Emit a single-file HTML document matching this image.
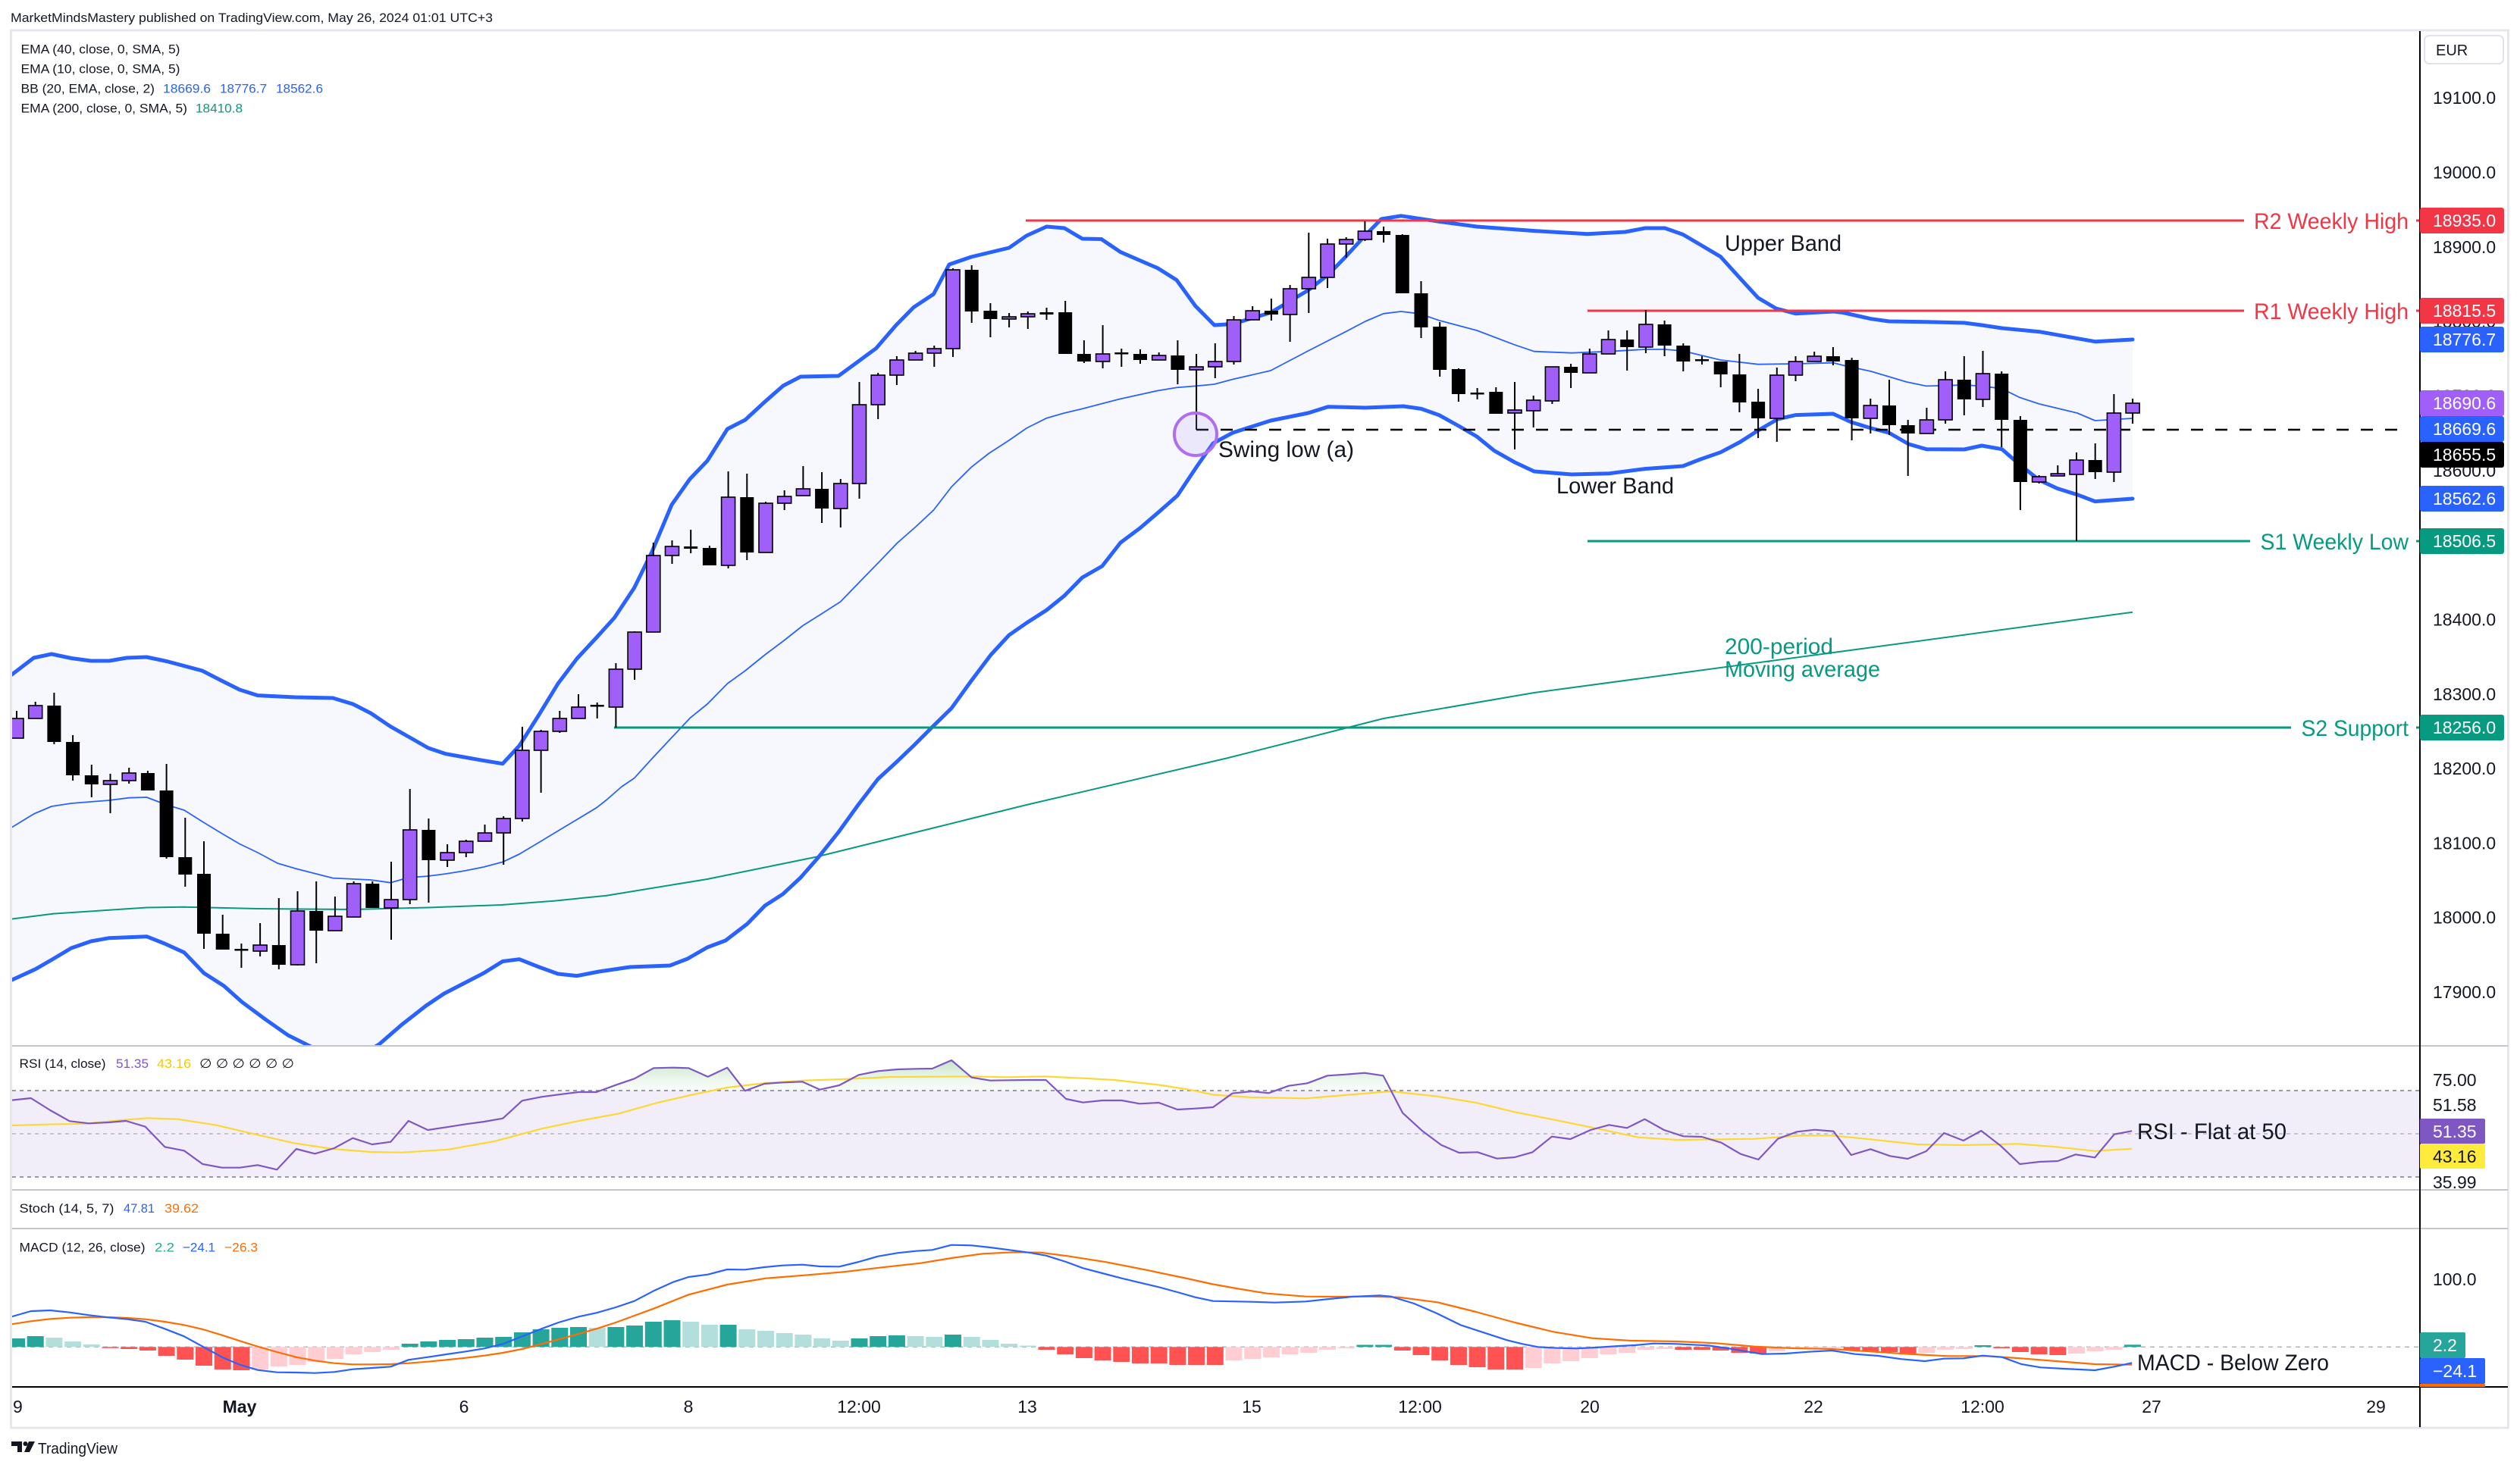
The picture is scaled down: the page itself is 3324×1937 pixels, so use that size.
<!DOCTYPE html>
<html><head><meta charset="utf-8"><style>
html,body{margin:0;padding:0;background:#fff;}
svg{display:block;font-family:"Liberation Sans","DejaVu Sans",sans-serif;}
</style></head><body>
<svg width="3324" height="1937" viewBox="0 0 3324 1937">
<defs>
<clipPath id="cm"><rect x="16" y="41" width="3175" height="1338"/></clipPath>
<clipPath id="cr"><rect x="16" y="1381" width="3175" height="188"/></clipPath>
<clipPath id="cg"><rect x="16" y="1381" width="3175" height="58"/></clipPath>
<clipPath id="cd"><rect x="16" y="1622" width="3175" height="207"/></clipPath>
<clipPath id="ct"><rect x="16" y="1831" width="3175" height="52"/></clipPath>
<linearGradient id="gg" gradientUnits="userSpaceOnUse" x1="0" y1="1396" x2="0" y2="1439"><stop offset="0" stop-color="#a5d6a7" stop-opacity="0.75"/><stop offset="1" stop-color="#e8f5e9" stop-opacity="0.25"/></linearGradient>
</defs>
<rect x="0" y="0" width="3324" height="1937" fill="#fff"/>
<text x="14" y="29" font-size="17" fill="#131722" textLength="636" lengthAdjust="spacingAndGlyphs">MarketMindsMastery published on TradingView.com, May 26, 2024 01:01 UTC+3</text>
<rect x="14.5" y="40" width="3294" height="1844" fill="#fff" stroke="#e6e7ec" stroke-width="3"/>

<g clip-path="url(#cm)">
<polygon fill="#f6f8fe" points="15.7,890 44.5,868 68,863 94,868.5 120,872 144,872 167,868 193.5,867 219.7,872.5 266.7,885 293,898.5 316,910 340,917.6 389.6,920 439,921 465.5,929 489,941 515,958.6 538.7,972 565,987 588,994.7 612,999 638,1003.6 663,1007.7 685,984 711,943 736,902 761,869 787,841 810.5,815 836.6,775.6 860,728 886,666 910,632 933,608 959.5,566 983,554 1009,530 1033,509 1056,497 1106,496 1132,477 1155.6,459.6 1182,429 1205,405.6 1231.5,388 1252,349 1281,339 1331,327 1354,311 1380.5,299 1404,301 1427.6,315 1452.7,315.5 1478,332.6 1527,353.8 1552,369.5 1576.7,403.6 1601.8,429 1626,427.5 1676,412.5 1725.5,383 1751.7,362.6 1775,338.7 1798.7,312.8 1822,289 1848,284.8 1898,292.3 1948,299 2023.6,304.6 2094,308.7 2144,306 2170,301 2196,301 2219.8,309.4 2243,323 2269.5,338.7 2293,364.7 2319,393 2342.7,407 2368.8,413.8 2418.5,411 2431,412.5 2468,420.7 2491.5,424 2541,424.7 2591,426 2614,429 2640.6,433 2690,437.7 2740,446.6 2763.5,450.7 2813,448 2813,658 2763.5,661.6 2740,652.7 2714,644.6 2690,633.6 2664,613 2640.6,592.7 2614,588 2591,593 2541,592.7 2517.7,586 2491.5,571 2468,565 2441.8,557 2418,546 2368.8,547.6 2345,553 2319,568 2295.6,583 2269.5,596.8 2243,606 2219.8,615 2170,618.6 2123,624.7 2073,626 2023.6,622 1997.5,609.7 1971,594.7 1948,576 1924,562 1898,547.6 1874.6,539.4 1851,536 1801,538 1751.7,536.7 1725.5,545 1676,555 1626,571 1600,585 1579,615 1553,654 1529.6,674.6 1503.5,697 1478,716 1453.8,747 1427.6,762 1404,786 1380.5,805 1354,822 1331,838 1307,864 1281,898.5 1255,934.6 1229,960 1205,984 1182,1006 1158,1028 1132,1062 1106,1098 1080,1130.6 1056,1158 1032.7,1179.7 1009,1195 985.7,1219 957,1241 933,1250 907,1265 883.7,1274 831,1276 790,1282 761,1287.6 736,1285 711,1276 685,1265.7 663,1268.5 638,1284 609,1299 585.8,1311 562,1327 530,1352 500,1378 480,1390 430,1390 410,1381 380,1366 350,1345 319,1322 295.5,1301 269,1284 243,1256.8 217,1245 193.5,1235.7 144,1237.7 120,1242 94,1251 70.6,1265 47,1278.7 15.7,1293"/>
<polyline fill="none" stroke="#089981" stroke-width="2" points="15.7,1212.5 70.6,1205.6 193.5,1197.5 243,1196.8 340,1199 465.5,1200 565,1197.5 661.6,1194 732,1188.6 800,1181.7 933,1160 1077,1130.6 1221,1095 1354,1062 1620,1000 1825,948 2023.6,914 2418.5,861 2813,807.7"/>
<polyline fill="none" stroke="#2962ff" stroke-width="1.8" stroke-linejoin="round" points="15.7,1091.6 44.5,1074 68,1064 94,1060 144,1056 170,1052.7 193.5,1052 219.7,1062 243,1069 266.7,1084 293,1100 316,1113.5 340,1125 366,1139 389.6,1146 439,1158.6 489,1161 515,1164.7 538.7,1158 565,1156 588,1153 613,1149 638,1144 663,1137.4 685,1127 711,1111.5 736,1096.4 761,1081.4 787,1065.7 800,1055.5 820,1038 836.6,1026.8 860,1001 910,947.6 933,929 959.5,902 983,885 1009,864 1033,846 1059,825.5 1082,811 1108.6,794 1134.7,767 1161,740 1184,716 1208,695 1231.5,673 1255,642.5 1281,616.6 1304.7,598 1331,581 1354,565 1380.5,551.7 1404,545 1427.6,539.4 1477,526.5 1527,515.5 1552,511.4 1576.7,509.4 1601.8,507 1626,500.5 1676,489 1725.5,463 1775,437.7 1801,424 1825,413.8 1848,411 1872,413.8 1898,422.7 1948,436 1997.5,454.8 2023.6,463.7 2073,465.7 2123,463.7 2170,461 2196,461 2219.8,463 2269.5,475 2319,480.7 2368.8,480 2418.5,478.7 2431,482 2468,490 2515,504 2541,509.4 2591,508 2614,509.4 2640.6,512.8 2664,524.4 2690,533 2740,545 2763.5,555 2813,552"/>
<polyline fill="none" stroke="#2962ff" stroke-width="5" stroke-linejoin="round" stroke-linecap="round" points="15.7,890 44.5,868 68,863 94,868.5 120,872 144,872 167,868 193.5,867 219.7,872.5 266.7,885 293,898.5 316,910 340,917.6 389.6,920 439,921 465.5,929 489,941 515,958.6 538.7,972 565,987 588,994.7 612,999 638,1003.6 663,1007.7 685,984 711,943 736,902 761,869 787,841 810.5,815 836.6,775.6 860,728 886,666 910,632 933,608 959.5,566 983,554 1009,530 1033,509 1056,497 1106,496 1132,477 1155.6,459.6 1182,429 1205,405.6 1231.5,388 1252,349 1281,339 1331,327 1354,311 1380.5,299 1404,301 1427.6,315 1452.7,315.5 1478,332.6 1527,353.8 1552,369.5 1576.7,403.6 1601.8,429 1626,427.5 1676,412.5 1725.5,383 1751.7,362.6 1775,338.7 1798.7,312.8 1822,289 1848,284.8 1898,292.3 1948,299 2023.6,304.6 2094,308.7 2144,306 2170,301 2196,301 2219.8,309.4 2243,323 2269.5,338.7 2293,364.7 2319,393 2342.7,407 2368.8,413.8 2418.5,411 2431,412.5 2468,420.7 2491.5,424 2541,424.7 2591,426 2614,429 2640.6,433 2690,437.7 2740,446.6 2763.5,450.7 2813,448"/>
<polyline fill="none" stroke="#2962ff" stroke-width="5" stroke-linejoin="round" stroke-linecap="round" points="15.7,1293 47,1278.7 70.6,1265 94,1251 120,1242 144,1237.7 193.5,1235.7 217,1245 243,1256.8 269,1284 295.5,1301 319,1322 350,1345 380,1366 410,1381 430,1390 480,1390 500,1378 530,1352 562,1327 585.8,1311 609,1299 638,1284 663,1268.5 685,1265.7 711,1276 736,1285 761,1287.6 790,1282 831,1276 883.7,1274 907,1265 933,1250 957,1241 985.7,1219 1009,1195 1032.7,1179.7 1056,1158 1080,1130.6 1106,1098 1132,1062 1158,1028 1182,1006 1205,984 1229,960 1255,934.6 1281,898.5 1307,864 1331,838 1354,822 1380.5,805 1404,786 1427.6,762 1453.8,747 1478,716 1503.5,697 1529.6,674.6 1553,654 1579,615 1600,585 1626,571 1676,555 1725.5,545 1751.7,536.7 1801,538 1851,536 1874.6,539.4 1898,547.6 1924,562 1948,576 1971,594.7 1997.5,609.7 2023.6,622 2073,626 2123,624.7 2170,618.6 2219.8,615 2243,606 2269.5,596.8 2295.6,583 2319,568 2345,553 2368.8,547.6 2418,546 2441.8,557 2468,565 2491.5,571 2517.7,586 2541,592.7 2591,593 2614,588 2640.6,592.7 2664,613 2690,633.6 2714,644.6 2740,652.7 2763.5,661.6 2813,658"/>

<g stroke-width="3" fill="none">
<line x1="1353" y1="291" x2="2960" y2="291" stroke="#f23645"/>
<line x1="3187" y1="291" x2="3192" y2="291" stroke="#f23645"/>
<line x1="2094" y1="410" x2="2960" y2="410" stroke="#f23645"/>
<line x1="3187" y1="410" x2="3192" y2="410" stroke="#f23645"/>
<line x1="2094" y1="714" x2="2968" y2="714" stroke="#089981"/>
<line x1="3187" y1="714" x2="3192" y2="714" stroke="#089981"/>
<line x1="810" y1="960" x2="3022" y2="960" stroke="#089981"/>
<line x1="3187" y1="960" x2="3192" y2="960" stroke="#089981"/>
</g>
<line x1="1578" y1="567" x2="3177" y2="567" stroke="#000" stroke-width="2.6" stroke-dasharray="16 16"/>

<path fill="none" stroke="#000" stroke-width="2" d="M22 938V974M46.7 926V948M71.4 914V982M96.1 970V1030M120.8 1009V1052M145.5 1021V1073M170.2 1013V1034M194.9 1017V1043M219.6 1008V1133M244.3 1079V1170M269 1110V1252M293.7 1207V1253M318.4 1245V1277M343.1 1218V1262M367.8 1185V1279M392.5 1176V1274M417.2 1163V1271M441.9 1183V1228M466.6 1163V1210M491.3 1163V1198M516 1137V1240M540.7 1041V1193M565.4 1080V1191M590.1 1114V1144M614.8 1108V1131M639.5 1088V1110M664.2 1077V1141M688.9 959V1084M713.6 963V1046M738.3 938V967M763 916V948M787.7 927V948M812.4 875V960M837.1 833V897M861.8 716V834M886.5 713V744M911.2 699V730M935.9 720V746M960.6 622V750M985.3 625V739M1010 662V729M1034.7 647V673M1059.4 615V654M1084.1 623V690M1108.8 632V696M1133.5 504V658M1158.2 492V553M1182.9 470V508M1207.6 463V475M1232.3 456V484M1257 354V471M1281.7 350V426M1306.4 400V445M1331.1 413V432M1355.8 411V434M1380.5 406V422M1405.2 397V467M1429.9 449V479M1454.6 429V486M1479.3 460V484M1504 461V480M1528.7 465V475M1553.4 449V507M1578.1 467V567M1602.8 453V499M1627.5 417V481M1652.2 404V422M1676.9 394V423M1701.6 376V451M1726.3 307V413M1751 315V380M1775.7 313V340M1800.4 292V318M1825.1 299V320M1849.8 309V387M1874.5 371V446M1899.2 425V497M1923.9 486V530M1948.6 512V527M1973.3 511V546M1998 504V593M2022.7 522V564M2047.4 484V533M2072.1 480V512M2096.8 460V492M2121.5 436V467M2146.2 436V489M2170.9 409V466M2195.6 423V470M2220.3 453V490M2245 470V481M2269.7 477V511M2294.4 467V544M2319.1 513V578M2343.8 485V583M2368.5 470V503M2393.2 464V477M2417.9 458V482M2442.6 472V581M2467.3 526V572M2492 501V574M2516.7 554V628M2541.4 538V572M2566.1 490V559M2590.8 470V548M2615.5 463V537M2640.2 490V590M2664.9 549V673M2689.6 627V638M2714.3 614V628M2739 597V714M2763.7 585V632M2788.4 520V636M2813.1 526V559"/>

<g fill="#000">
<rect x="62.4" y="931" width="18" height="48"/><rect x="87.1" y="979" width="18" height="44"/><rect x="111.8" y="1023" width="18" height="12"/><rect x="185.9" y="1020" width="18" height="23"/><rect x="210.6" y="1043" width="18" height="88"/><rect x="235.3" y="1131" width="18" height="23"/><rect x="260" y="1153" width="18" height="79"/><rect x="284.7" y="1232" width="18" height="21"/><rect x="309.4" y="1252" width="18" height="2.5"/><rect x="358.8" y="1247" width="18" height="26"/><rect x="408.2" y="1202" width="18" height="26"/><rect x="482.3" y="1166" width="18" height="32"/><rect x="556.4" y="1095" width="18" height="40"/><rect x="778.7" y="930" width="18" height="2.5"/><rect x="902.2" y="721" width="18" height="3"/><rect x="926.9" y="723" width="18" height="23"/><rect x="976.3" y="656" width="18" height="73"/><rect x="1075.1" y="645" width="18" height="26"/><rect x="1272.7" y="356" width="18" height="55"/><rect x="1297.4" y="410" width="18" height="11"/><rect x="1371.5" y="412" width="18" height="3"/><rect x="1396.2" y="412" width="18" height="55"/><rect x="1420.9" y="467" width="18" height="10"/><rect x="1470.3" y="465" width="18" height="2.5"/><rect x="1495" y="467" width="18" height="8"/><rect x="1544.4" y="469" width="18" height="19"/><rect x="1667.9" y="410" width="18" height="5"/><rect x="1816.1" y="305" width="18" height="5"/><rect x="1840.8" y="310" width="18" height="77"/><rect x="1865.5" y="387" width="18" height="45"/><rect x="1890.2" y="431" width="18" height="57"/><rect x="1914.9" y="487" width="18" height="33"/><rect x="1939.6" y="518" width="18" height="2.5"/><rect x="1964.3" y="517" width="18" height="29"/><rect x="2063.1" y="484" width="18" height="8"/><rect x="2137.2" y="448" width="18" height="10"/><rect x="2186.6" y="428" width="18" height="28"/><rect x="2211.3" y="456" width="18" height="21"/><rect x="2236" y="474" width="18" height="2.5"/><rect x="2260.7" y="477" width="18" height="17"/><rect x="2285.4" y="494" width="18" height="37"/><rect x="2310.1" y="530" width="18" height="22"/><rect x="2408.9" y="470" width="18" height="7"/><rect x="2433.6" y="475" width="18" height="77"/><rect x="2483" y="535" width="18" height="26"/><rect x="2507.7" y="561" width="18" height="11"/><rect x="2581.8" y="501" width="18" height="26"/><rect x="2631.2" y="493" width="18" height="61"/><rect x="2655.9" y="554" width="18" height="82"/><rect x="2754.7" y="607" width="18" height="16"/>
</g>
<g fill="#a15ffa" stroke="#000" stroke-width="1.6">
<rect x="13" y="948" width="18" height="26"/><rect x="37.7" y="931" width="18" height="17"/><rect x="136.5" y="1030" width="18" height="5"/><rect x="161.2" y="1020" width="18" height="10"/><rect x="334.1" y="1247" width="18" height="8"/><rect x="383.5" y="1202" width="18" height="71"/><rect x="432.9" y="1209" width="18" height="19"/><rect x="457.6" y="1166" width="18" height="44"/><rect x="507" y="1187" width="18" height="11"/><rect x="531.7" y="1095" width="18" height="92"/><rect x="581.1" y="1125" width="18" height="10"/><rect x="605.8" y="1110" width="18" height="15"/><rect x="630.5" y="1099" width="18" height="11"/><rect x="655.2" y="1080" width="18" height="19"/><rect x="679.9" y="990" width="18" height="90"/><rect x="704.6" y="965" width="18" height="25"/><rect x="729.3" y="948" width="18" height="17"/><rect x="754" y="933" width="18" height="15"/><rect x="803.4" y="883" width="18" height="50"/><rect x="828.1" y="834" width="18" height="49"/><rect x="852.8" y="733" width="18" height="101"/><rect x="877.5" y="721" width="18" height="12"/><rect x="951.6" y="656" width="18" height="90"/><rect x="1001" y="664" width="18" height="65"/><rect x="1025.7" y="655" width="18" height="9"/><rect x="1050.4" y="645" width="18" height="9"/><rect x="1099.8" y="638" width="18" height="33"/><rect x="1124.5" y="534" width="18" height="104"/><rect x="1149.2" y="495" width="18" height="39"/><rect x="1173.9" y="475" width="18" height="20"/><rect x="1198.6" y="466" width="18" height="9"/><rect x="1223.3" y="460" width="18" height="6"/><rect x="1248" y="356" width="18" height="104"/><rect x="1322.1" y="418" width="18" height="3"/><rect x="1346.8" y="414" width="18" height="4"/><rect x="1445.6" y="467" width="18" height="10"/><rect x="1519.7" y="469" width="18" height="6"/><rect x="1569.1" y="484" width="18" height="4"/><rect x="1593.8" y="477" width="18" height="7"/><rect x="1618.5" y="422" width="18" height="55"/><rect x="1643.2" y="410" width="18" height="12"/><rect x="1692.6" y="381" width="18" height="34"/><rect x="1717.3" y="366" width="18" height="15"/><rect x="1742" y="322" width="18" height="44"/><rect x="1766.7" y="316" width="18" height="6"/><rect x="1791.4" y="305" width="18" height="11"/><rect x="1989" y="541" width="18" height="4"/><rect x="2013.7" y="528" width="18" height="14"/><rect x="2038.4" y="484" width="18" height="45"/><rect x="2087.8" y="467" width="18" height="25"/><rect x="2112.5" y="448" width="18" height="19"/><rect x="2161.9" y="428" width="18" height="30"/><rect x="2334.8" y="495" width="18" height="57"/><rect x="2359.5" y="477" width="18" height="18"/><rect x="2384.2" y="470" width="18" height="7"/><rect x="2458.3" y="535" width="18" height="17"/><rect x="2532.4" y="554" width="18" height="18"/><rect x="2557.1" y="501" width="18" height="53"/><rect x="2606.5" y="493" width="18" height="34"/><rect x="2680.6" y="629" width="18" height="7"/><rect x="2705.3" y="625" width="18" height="3"/><rect x="2730" y="607" width="18" height="19"/><rect x="2779.4" y="545" width="18" height="78"/><rect x="2804.1" y="532" width="18" height="13"/>
</g>

<circle cx="1577" cy="573" r="28" fill="#b48cf0" fill-opacity="0.15" stroke="#b06df2" stroke-width="4"/>
<g font-size="30" fill="#131722">
<text x="1607" y="603" textLength="179" lengthAdjust="spacingAndGlyphs">Swing low (a)</text>
<text x="2275" y="331" textLength="154" lengthAdjust="spacingAndGlyphs">Upper Band</text>
<text x="2053" y="651" textLength="155" lengthAdjust="spacingAndGlyphs">Lower Band</text>
</g>
<g font-size="30" fill="#089981">
<text x="2275" y="863" textLength="143" lengthAdjust="spacingAndGlyphs">200-period</text>
<text x="2275" y="893" textLength="205" lengthAdjust="spacingAndGlyphs">Moving average</text>
<text x="2981.5" y="725" textLength="195.5" lengthAdjust="spacingAndGlyphs">S1 Weekly Low</text>
<text x="3035.5" y="971" textLength="141.5" lengthAdjust="spacingAndGlyphs">S2 Support</text>
</g>
<g font-size="30" fill="#f23645">
<text x="2973" y="302" textLength="204" lengthAdjust="spacingAndGlyphs">R2 Weekly High</text>
<text x="2973" y="421" textLength="204" lengthAdjust="spacingAndGlyphs">R1 Weekly High</text>
</g>
</g>

<g font-size="17" fill="#131722">
<text x="27.5" y="70.7" textLength="210" lengthAdjust="spacingAndGlyphs">EMA (40, close, 0, SMA, 5)</text>
<text x="27.5" y="96.7" textLength="210" lengthAdjust="spacingAndGlyphs">EMA (10, close, 0, SMA, 5)</text>
<text x="27.5" y="122.7" textLength="176.5" lengthAdjust="spacingAndGlyphs">BB (20, EMA, close, 2)</text>
<text x="215" y="122.7" fill="#2962ff" textLength="63" lengthAdjust="spacingAndGlyphs">18669.6</text>
<text x="290" y="122.7" fill="#2962ff" textLength="62" lengthAdjust="spacingAndGlyphs">18776.7</text>
<text x="364" y="122.7" fill="#2962ff" textLength="62" lengthAdjust="spacingAndGlyphs">18562.6</text>
<text x="27.5" y="148.7" textLength="219.5" lengthAdjust="spacingAndGlyphs">EMA (200, close, 0, SMA, 5)</text>
<text x="258" y="148.7" fill="#089981" textLength="62" lengthAdjust="spacingAndGlyphs">18410.8</text>
</g>

<!-- RSI pane -->
<rect x="16" y="1439" width="3176" height="114" fill="#f2eef9"/>
<g clip-path="url(#cg)">
<polygon fill="url(#gg)" points="15.3,1439 15.3,1451.7 40.8,1449 66.3,1465 91.8,1479.3 117.3,1482.3 142.9,1481 166.3,1479 191.8,1486.7 217.3,1513.3 242.9,1518.3 267.3,1536 292.9,1540.7 316.3,1540.7 339.8,1537.3 365.3,1543.3 390.8,1516 415.3,1522.3 440.8,1515 465.3,1501.7 490.8,1510 515.3,1506.7 538.8,1479 564.3,1491 588.8,1487.3 614.3,1483.3 638.8,1480 663.3,1475.7 688.8,1452.3 714.3,1447.3 736.7,1444.3 763.3,1441 786.7,1441 812.2,1431.7 836.7,1423.3 862.2,1409.3 887.8,1408.7 908.2,1409.3 933.7,1420.7 959.2,1408.7 982.7,1439.3 1008.2,1430 1032.7,1428.3 1058.2,1427.3 1081.6,1437.7 1107.1,1432 1132.7,1418.3 1158.2,1413.3 1183.7,1411 1208.2,1410.3 1229.6,1410 1255.1,1399 1281.6,1421.7 1306.1,1425.7 1331.6,1425.3 1357.1,1425 1379.6,1425 1406.1,1450 1428.6,1454.7 1454.1,1452 1479.6,1452 1503.1,1456.3 1528.6,1455 1553.1,1464 1576.5,1462.7 1600,1461 1625.5,1442.7 1651,1440 1673.5,1442.3 1700,1432.7 1724.5,1429.3 1751,1419.3 1775.5,1417.7 1800,1415.7 1824.5,1419.3 1850,1468.3 1875.5,1491.7 1901,1510.7 1924.5,1521 2812.2,1492.3 2812.2,1439"/>
</g>
<g stroke-width="1.6" fill="none">
<line x1="16" y1="1439" x2="3192" y2="1439" stroke="#787b86" stroke-dasharray="5 5"/>
<line x1="16" y1="1496" x2="3192" y2="1496" stroke="#b2b5be" stroke-dasharray="5 5"/>
<line x1="16" y1="1553" x2="3192" y2="1553" stroke="#787b86" stroke-dasharray="5 5"/>
</g>
<g clip-path="url(#cr)" fill="none" stroke-width="2.2" stroke-linejoin="round">
<polyline stroke="#fdd835" points="15.3,1485 61.2,1483.7 112.2,1482.7 163.3,1477.7 193.9,1475.3 234.7,1476.7 285.7,1484.7 336.7,1496.7 387.8,1508.3 438.8,1516 489.8,1520 530.6,1520.7 591.8,1516.7 653.1,1505.7 714.3,1489.3 765.3,1478.7 816.3,1469.3 867.3,1455 918.4,1443.3 959.2,1435 1010.2,1429 1061.2,1425.7 1112.2,1424 1173.5,1421 1234.7,1420.7 1285.7,1420.3 1326.5,1421.3 1377.6,1420.3 1428.6,1422.7 1469.4,1425 1530.6,1431.7 1571.4,1438.3 1600,1444.5 1651,1448 1722.4,1449.3 1773.5,1445 1834.7,1440 1895.9,1446.7 1947,1455 1998,1467.3 2049,1477.3 2100,1487.7 2161.2,1500.7 2212.2,1504 2314.3,1502.7 2375.5,1498.3 2416.3,1498.3 2467.3,1503.3 2528.6,1510 2589.8,1511 2661.2,1509.3 2712.2,1513.3 2763.3,1518.7 2812.2,1515.7"/>
<polyline stroke="#7e57c2" points="15.3,1451.7 40.8,1449 66.3,1465 91.8,1479.3 117.3,1482.3 142.9,1481 166.3,1479 191.8,1486.7 217.3,1513.3 242.9,1518.3 267.3,1536 292.9,1540.7 316.3,1540.7 339.8,1537.3 365.3,1543.3 390.8,1516 415.3,1522.3 440.8,1515 465.3,1501.7 490.8,1510 515.3,1506.7 538.8,1479 564.3,1491 588.8,1487.3 614.3,1483.3 638.8,1480 663.3,1475.7 688.8,1452.3 714.3,1447.3 736.7,1444.3 763.3,1441 786.7,1441 812.2,1431.7 836.7,1423.3 862.2,1409.3 887.8,1408.7 908.2,1409.3 933.7,1420.7 959.2,1408.7 982.7,1439.3 1008.2,1430 1032.7,1428.3 1058.2,1427.3 1081.6,1437.7 1107.1,1432 1132.7,1418.3 1158.2,1413.3 1183.7,1411 1208.2,1410.3 1229.6,1410 1255.1,1399 1281.6,1421.7 1306.1,1425.7 1331.6,1425.3 1357.1,1425 1379.6,1425 1406.1,1450 1428.6,1454.7 1454.1,1452 1479.6,1452 1503.1,1456.3 1528.6,1455 1553.1,1464 1576.5,1462.7 1600,1461 1625.5,1442.7 1651,1440 1673.5,1442.3 1700,1432.7 1724.5,1429.3 1751,1419.3 1775.5,1417.7 1800,1415.7 1824.5,1419.3 1850,1468.3 1875.5,1491.7 1901,1510.7 1924.5,1521 1949,1520.3 1974.5,1528.7 1998,1527 2021.4,1520.3 2047,1499.7 2071.4,1503 2098,1491 2122.4,1484.3 2146,1488.3 2169.4,1476.7 2195,1491 2220.4,1499.3 2244.9,1500 2270.4,1507.7 2296,1522.7 2319.4,1530 2345,1502.7 2370.4,1493.3 2393.9,1490.7 2418.4,1492.7 2441.8,1524 2467.3,1516.3 2492.9,1525.3 2516.3,1529 2540.8,1519 2564.3,1495 2589.8,1505 2613.3,1492 2638.8,1511.7 2664.3,1536 2689.8,1533 2714.3,1532 2737.8,1523.3 2763.3,1527.3 2788.8,1496.7 2812.2,1492.3"/>
</g>
<text x="2819" y="1503" font-size="30" fill="#131722" textLength="197" lengthAdjust="spacingAndGlyphs">RSI - Flat at 50</text>
<g font-size="17" fill="#131722">
<text x="25.5" y="1409" textLength="114" lengthAdjust="spacingAndGlyphs">RSI (14, close)</text>
<text x="153" y="1409" fill="#7e57c2" textLength="43" lengthAdjust="spacingAndGlyphs">51.35</text>
<text x="207" y="1409" fill="#f2cc00" textLength="45" lengthAdjust="spacingAndGlyphs">43.16</text>
<text x="263" y="1409" textLength="125" lengthAdjust="spacingAndGlyphs">∅ ∅ ∅ ∅ ∅ ∅</text>
<text x="25.5" y="1600" textLength="125" lengthAdjust="spacingAndGlyphs">Stoch (14, 5, 7)</text>
<text x="163" y="1600" fill="#2962ff" textLength="41" lengthAdjust="spacingAndGlyphs">47.81</text>
<text x="217" y="1600" fill="#ff6d00" textLength="45" lengthAdjust="spacingAndGlyphs">39.62</text>
<text x="25.5" y="1651.5" textLength="166" lengthAdjust="spacingAndGlyphs">MACD (12, 26, close)</text>
<text x="204" y="1651.5" fill="#22ab94" textLength="26" lengthAdjust="spacingAndGlyphs">2.2</text>
<text x="241" y="1651.5" fill="#2962ff" textLength="43" lengthAdjust="spacingAndGlyphs">−24.1</text>
<text x="296" y="1651.5" fill="#ff6d00" textLength="44" lengthAdjust="spacingAndGlyphs">−26.3</text>
</g>

<!-- MACD pane -->
<line x1="16" y1="1777.3" x2="3192" y2="1777.3" stroke="#b2b5be" stroke-width="1.6" stroke-dasharray="6 6"/>
<g clip-path="url(#cd)">
<g fill="#26a69a">
<rect x="11" y="1766" width="22" height="11.3"/><rect x="35.7" y="1763" width="22" height="14.3"/><rect x="529.7" y="1773" width="22" height="4.3"/><rect x="554.4" y="1770" width="22" height="7.3"/><rect x="579.1" y="1768" width="22" height="9.3"/><rect x="603.8" y="1767" width="22" height="10.3"/><rect x="628.5" y="1765" width="22" height="12.3"/><rect x="653.2" y="1764" width="22" height="13.3"/><rect x="677.9" y="1758" width="22" height="19.3"/><rect x="702.6" y="1754" width="22" height="23.3"/><rect x="727.3" y="1752" width="22" height="25.3"/><rect x="752" y="1751" width="22" height="26.3"/><rect x="801.4" y="1751" width="22" height="26.3"/><rect x="826.1" y="1749" width="22" height="28.3"/><rect x="850.8" y="1744" width="22" height="33.3"/><rect x="875.5" y="1742" width="22" height="35.3"/><rect x="949.6" y="1748" width="22" height="29.3"/><rect x="1122.5" y="1766" width="22" height="11.3"/><rect x="1147.2" y="1763" width="22" height="14.3"/><rect x="1171.9" y="1762" width="22" height="15.3"/><rect x="1246" y="1761" width="22" height="16.3"/><rect x="1789.4" y="1774.5" width="22" height="2.8"/><rect x="1814.1" y="1774.5" width="22" height="2.8"/><rect x="2604.5" y="1775" width="22" height="2.3"/><rect x="2802.1" y="1774.3" width="22" height="3"/>
</g>
<g fill="#b2dfdb">
<rect x="60.4" y="1765" width="22" height="12.3"/><rect x="85.1" y="1770" width="22" height="7.3"/><rect x="109.8" y="1774" width="22" height="3.3"/><rect x="776.7" y="1752" width="22" height="25.3"/><rect x="900.2" y="1744" width="22" height="33.3"/><rect x="924.9" y="1748" width="22" height="29.3"/><rect x="974.3" y="1754" width="22" height="23.3"/><rect x="999" y="1756" width="22" height="21.3"/><rect x="1023.7" y="1759" width="22" height="18.3"/><rect x="1048.4" y="1761" width="22" height="16.3"/><rect x="1073.1" y="1766" width="22" height="11.3"/><rect x="1097.8" y="1769" width="22" height="8.3"/><rect x="1196.6" y="1763" width="22" height="14.3"/><rect x="1221.3" y="1764" width="22" height="13.3"/><rect x="1270.7" y="1764" width="22" height="13.3"/><rect x="1295.4" y="1768" width="22" height="9.3"/><rect x="1320.1" y="1773" width="22" height="4.3"/><rect x="1344.8" y="1775.5" width="22" height="1.8"/>
</g>
<g fill="#ff5252">
<rect x="134.5" y="1777.3" width="22" height="1.5"/><rect x="159.2" y="1777.3" width="22" height="2.7"/><rect x="183.9" y="1777.3" width="22" height="4.7"/><rect x="208.6" y="1777.3" width="22" height="11.7"/><rect x="233.3" y="1777.3" width="22" height="16.7"/><rect x="258" y="1777.3" width="22" height="24.7"/><rect x="282.7" y="1777.3" width="22" height="29.7"/><rect x="307.4" y="1777.3" width="22" height="30.7"/><rect x="1369.5" y="1777.3" width="22" height="3.7"/><rect x="1394.2" y="1777.3" width="22" height="9.7"/><rect x="1418.9" y="1777.3" width="22" height="14.7"/><rect x="1443.6" y="1777.3" width="22" height="17.7"/><rect x="1468.3" y="1777.3" width="22" height="19.7"/><rect x="1493" y="1777.3" width="22" height="21.7"/><rect x="1517.7" y="1777.3" width="22" height="21.7"/><rect x="1542.4" y="1777.3" width="22" height="23.7"/><rect x="1567.1" y="1777.3" width="22" height="23.7"/><rect x="1591.8" y="1777.3" width="22" height="23.7"/><rect x="1838.8" y="1777.3" width="22" height="4.7"/><rect x="1863.5" y="1777.3" width="22" height="10.7"/><rect x="1888.2" y="1777.3" width="22" height="17.7"/><rect x="1912.9" y="1777.3" width="22" height="23.7"/><rect x="1937.6" y="1777.3" width="22" height="26.7"/><rect x="1962.3" y="1777.3" width="22" height="29.7"/><rect x="1987" y="1777.3" width="22" height="29.7"/><rect x="2209.3" y="1777.3" width="22" height="3.7"/><rect x="2234" y="1777.3" width="22" height="3.7"/><rect x="2258.7" y="1777.3" width="22" height="4.7"/><rect x="2283.4" y="1777.3" width="22" height="7.7"/><rect x="2308.1" y="1777.3" width="22" height="8.7"/><rect x="2431.6" y="1777.3" width="22" height="4.7"/><rect x="2456.3" y="1777.3" width="22" height="5.7"/><rect x="2481" y="1777.3" width="22" height="6.7"/><rect x="2505.7" y="1777.3" width="22" height="8.7"/><rect x="2629.2" y="1777.3" width="22" height="1.7"/><rect x="2653.9" y="1777.3" width="22" height="6.7"/><rect x="2678.6" y="1777.3" width="22" height="9.7"/><rect x="2703.3" y="1777.3" width="22" height="10.7"/>
</g>
<g fill="#ffcdd2">
<rect x="332.1" y="1777.3" width="22" height="29.7"/><rect x="356.8" y="1777.3" width="22" height="25.7"/><rect x="381.5" y="1777.3" width="22" height="23.7"/><rect x="406.2" y="1777.3" width="22" height="19.7"/><rect x="430.9" y="1777.3" width="22" height="15.7"/><rect x="455.6" y="1777.3" width="22" height="9.7"/><rect x="480.3" y="1777.3" width="22" height="6.7"/><rect x="505" y="1777.3" width="22" height="3.7"/><rect x="1616.5" y="1777.3" width="22" height="17.7"/><rect x="1641.2" y="1777.3" width="22" height="15.7"/><rect x="1665.9" y="1777.3" width="22" height="13.7"/><rect x="1690.6" y="1777.3" width="22" height="9.7"/><rect x="1715.3" y="1777.3" width="22" height="7.7"/><rect x="1740" y="1777.3" width="22" height="3.7"/><rect x="1764.7" y="1777.3" width="22" height="1.7"/><rect x="2011.7" y="1777.3" width="22" height="27.7"/><rect x="2036.4" y="1777.3" width="22" height="21.7"/><rect x="2061.1" y="1777.3" width="22" height="18.7"/><rect x="2085.8" y="1777.3" width="22" height="14.7"/><rect x="2110.5" y="1777.3" width="22" height="9.7"/><rect x="2135.2" y="1777.3" width="22" height="7.7"/><rect x="2159.9" y="1777.3" width="22" height="3.7"/><rect x="2184.6" y="1777.3" width="22" height="2.7"/><rect x="2332.8" y="1777.3" width="22" height="5.7"/><rect x="2357.5" y="1777.3" width="22" height="2.7"/><rect x="2382.2" y="1777.3" width="22" height="1.7"/><rect x="2406.9" y="1777.3" width="22" height="1.7"/><rect x="2530.4" y="1777.3" width="22" height="7.7"/><rect x="2555.1" y="1777.3" width="22" height="3.7"/><rect x="2579.8" y="1777.3" width="22" height="2.7"/><rect x="2728" y="1777.3" width="22" height="8.7"/><rect x="2752.7" y="1777.3" width="22" height="5.7"/><rect x="2777.4" y="1777.3" width="22" height="3.7"/>
</g>
<g fill="none" stroke-width="2.2" stroke-linejoin="round">
<polyline stroke="#ff6d00" points="15.3,1747.3 40.8,1743.3 66.3,1740.3 91.8,1738.7 117.3,1738 142.9,1738 168.4,1739 191.8,1740.7 217.3,1744 242.9,1748.3 267.3,1754 292.9,1761.7 316.3,1769.3 339.8,1776.7 365.3,1784 390.8,1790.7 415.3,1795.3 440.8,1798.7 465.3,1800.3 490.8,1800.3 515.3,1800 538.8,1798.7 564.3,1796.7 588.8,1794.3 614.3,1791.7 638.8,1788.7 663.3,1785 688.8,1780 714.3,1773.3 736.7,1767.3 763.3,1760 786.7,1753.3 812.2,1745 836.7,1736 862.2,1726.7 908.2,1708.3 959.2,1695 1010.2,1686.7 1061.2,1682.7 1112.2,1678.3 1163.3,1672.3 1214.3,1666.7 1255.1,1660 1295.9,1654.3 1336.7,1652.3 1372.4,1652.7 1408.2,1657.3 1459.2,1665.3 1510.2,1675.3 1561.2,1686 1600,1694.5 1630.6,1700 1671.4,1706.7 1722.4,1710.7 1763.3,1711 1804.1,1710.7 1844.9,1711.7 1895.9,1718.3 1946.9,1731 1998,1745 2049,1757.3 2100,1765.7 2151,1769 2212.2,1770 2263.3,1772.3 2314.3,1776.7 2365.3,1779 2416.3,1780 2467.3,1783.3 2518.4,1786.7 2569.4,1789.3 2620.4,1789.3 2661.2,1792 2712.2,1796 2763.3,1800 2812.2,1800.7"/>
<polyline stroke="#2962ff" points="15.3,1737.3 40.8,1730 66.3,1729 91.8,1731.7 117.3,1735.3 142.9,1738.3 168.4,1740.7 191.8,1744 217.3,1753.3 242.9,1763.3 267.3,1776.7 292.9,1790.7 316.3,1800.7 339.8,1807.7 365.3,1810.7 390.8,1811 415.3,1811.7 440.8,1810.3 465.3,1806.7 490.8,1805 515.3,1803.3 538.8,1794.3 564.3,1790.7 588.8,1787 614.3,1783.3 638.8,1779.3 663.3,1773.3 688.8,1763.3 714.3,1753.3 736.7,1745 763.3,1737.3 786.7,1732.3 812.2,1725 836.7,1716.7 862.2,1703.3 887.8,1691.7 908.2,1685 933.7,1681.7 959.2,1675 982.7,1675.3 1008.2,1672 1032.7,1669.7 1058.2,1668.7 1081.6,1671 1107.1,1671.3 1132.7,1665 1158.2,1657.7 1183.7,1653.3 1208.2,1650.7 1229.6,1649.3 1255.1,1642.7 1281.6,1643.3 1306.1,1646 1331.6,1649.3 1357.1,1652.7 1379.6,1656.7 1406.1,1665 1428.6,1673.3 1454.1,1680 1479.6,1686.7 1503.1,1692.3 1528.6,1698.3 1553.1,1705 1576.5,1711.7 1600,1716.7 1651,1717.7 1681.6,1718.7 1722.4,1717.3 1753.1,1714 1783.7,1711 1819.4,1709.3 1834.7,1710.7 1865.3,1720 1895.9,1733.3 1926.5,1748.3 1957.1,1758.3 1987.8,1768.3 2008.2,1773.3 2028.6,1777.3 2054.1,1778.7 2079.6,1779.3 2105.1,1778 2135.7,1776 2156.1,1775 2181.6,1772.7 2212.2,1773.3 2253,1775.3 2278.6,1779 2304.1,1783.3 2324.5,1786.7 2355.1,1786 2385.7,1783.7 2416.3,1782 2446.9,1786.7 2477.6,1789 2508.2,1793.3 2538.8,1796 2564.3,1792.7 2589.8,1792.3 2615.3,1788.7 2640.8,1790.7 2666.3,1800 2691.8,1804.3 2722.4,1806 2763.3,1808 2788.8,1803.3 2812.2,1798.3"/>
</g>
</g>
<text x="2819" y="1808" font-size="30" fill="#131722" textLength="253" lengthAdjust="spacingAndGlyphs">MACD - Below Zero</text>

<!-- separators & axes -->
<g stroke="#c3c6ce" stroke-width="2">
<line x1="16" y1="1380" x2="3308" y2="1380"/>
<line x1="16" y1="1570" x2="3308" y2="1570"/>
<line x1="16" y1="1621" x2="3308" y2="1621"/>
</g>
<line x1="16" y1="1830" x2="3308" y2="1830" stroke="#000" stroke-width="2"/>
<line x1="3192" y1="41" x2="3192" y2="1883" stroke="#000" stroke-width="2"/>

<!-- time axis -->
<g font-size="23" fill="#131722" text-anchor="middle">
<g clip-path="url(#ct)"><text x="17" y="1864">29</text></g>
<text x="316" y="1864" font-weight="bold">May</text>
<text x="612" y="1864">6</text>
<text x="908" y="1864">8</text>
<text x="1133" y="1864">12:00</text>
<text x="1355" y="1864">13</text>
<text x="1651" y="1864">15</text>
<text x="1873" y="1864">12:00</text>
<text x="2097" y="1864">20</text>
<text x="2392" y="1864">22</text>
<text x="2615" y="1864">12:00</text>
<text x="2838" y="1864">27</text>
<text x="3134" y="1864">29</text>
</g>

<!-- price axis -->
<rect x="3198" y="47" width="104" height="37" rx="6" fill="#fff" stroke="#e0e3eb" stroke-width="2"/>
<text x="3213" y="73" font-size="20" fill="#131722">EUR</text>
<g font-size="23" fill="#131722">
<text x="3209" y="137">19100.0</text>
<text x="3209" y="235.5">19000.0</text>
<text x="3209" y="334">18900.0</text>
<text x="3209" y="432">18800.0</text>
<text x="3209" y="530.5">18700.0</text>
<text x="3209" y="629">18600.0</text>
<text x="3209" y="727">18500.0</text>
<text x="3209" y="825.5">18400.0</text>
<text x="3209" y="924">18300.0</text>
<text x="3209" y="1022">18200.0</text>
<text x="3209" y="1120.5">18100.0</text>
<text x="3209" y="1218.5">18000.0</text>
<text x="3209" y="1317">17900.0</text>
<text x="3209" y="1433">75.00</text>
<text x="3209" y="1466">51.58</text>
<text x="3209" y="1568">35.99</text>
<text x="3209" y="1696">100.0</text>
</g>
<g>
<rect x="3192" y="274" width="111" height="34" rx="3" fill="#f23645"/>
<rect x="3192" y="393" width="111" height="34" rx="3" fill="#f23645"/>
<rect x="3192" y="431" width="111" height="34" rx="3" fill="#2962ff"/>
<rect x="3192" y="515" width="111" height="34" rx="3" fill="#a15ffa"/>
<rect x="3192" y="549" width="111" height="34" rx="3" fill="#2962ff"/>
<rect x="3192" y="583" width="111" height="34" rx="3" fill="#000"/>
<rect x="3192" y="641" width="111" height="34" rx="3" fill="#2962ff"/>
<rect x="3192" y="697" width="111" height="34" rx="3" fill="#089981"/>
<rect x="3192" y="943" width="111" height="34" rx="3" fill="#089981"/>
<rect x="3192" y="1476" width="86" height="33" rx="2" fill="#7e57c2"/>
<rect x="3192" y="1509" width="86" height="33" rx="2" fill="#ffeb3b"/>
<rect x="3192" y="1758" width="60" height="34" rx="2" fill="#26a69a"/>
<rect x="3192" y="1826" width="86" height="4" fill="#ff6d00"/>
<rect x="3192" y="1792" width="86" height="34" rx="2" fill="#2962ff"/>
</g>
<g font-size="23" fill="#fff">
<text x="3209" y="299">18935.0</text>
<text x="3209" y="418">18815.5</text>
<text x="3209" y="456">18776.7</text>
<text x="3209" y="540">18690.6</text>
<text x="3209" y="574">18669.6</text>
<text x="3209" y="608">18655.5</text>
<text x="3209" y="666">18562.6</text>
<text x="3209" y="722">18506.5</text>
<text x="3209" y="968">18256.0</text>
<text x="3209" y="1501">51.35</text>
<text x="3209" y="1534" fill="#131722">43.16</text>
<text x="3209" y="1783">2.2</text>
<text x="3209" y="1817">−24.1</text>
</g>

<!-- footer logo -->
<g fill="#131722">
<path d="M15 1902h14v14h-6v-8h-8z"/>
<circle cx="33.5" cy="1905" r="3"/>
<path d="M38 1902h8l-7 14h-7z"/>
<text x="50" y="1918" font-size="20" textLength="105" lengthAdjust="spacingAndGlyphs">TradingView</text>
</g>
</svg>
</body></html>
